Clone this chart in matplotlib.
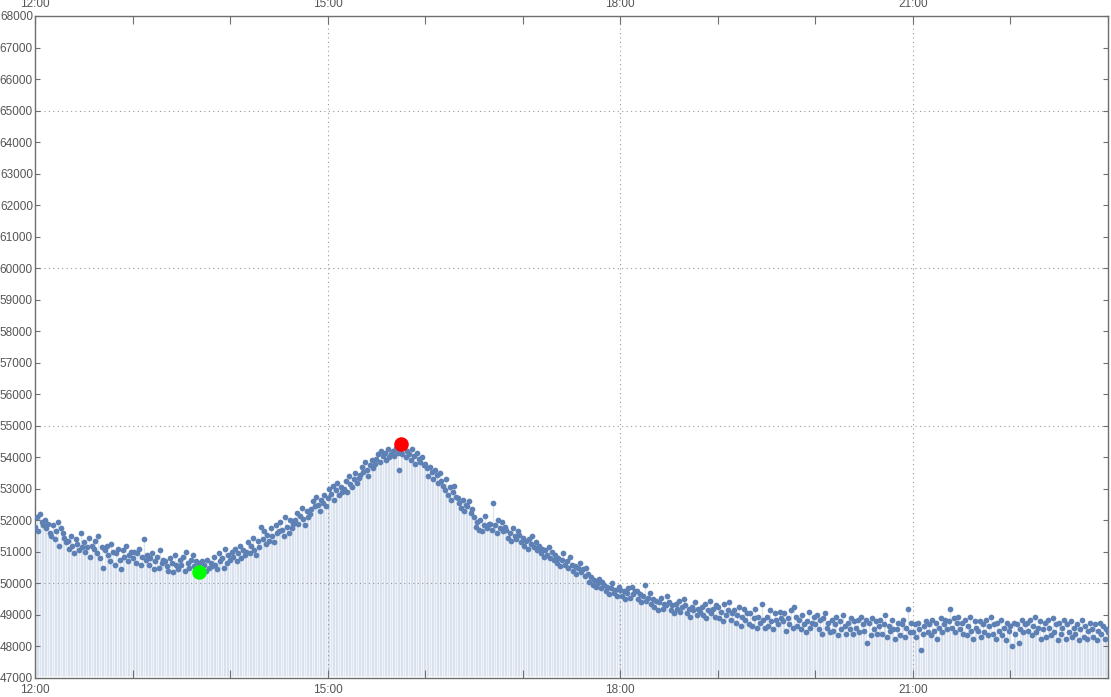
import matplotlib.pyplot as plt
import numpy as np

plt.rcParams['font.family'] = ['Liberation Sans', 'DejaVu Sans']
plt.rcParams['font.size'] = 8.5

# one reading per minute, from 12:00
h12 = [51800, 52100, 51650, 52200, 51950, 51850, 52000, 51750, 51900, 51600,
       51500, 51850, 51400, 51650, 51950, 51200, 51750, 51600, 51450, 51300,
       51350, 51100, 51500, 51200, 50950, 51400, 51250, 51050, 51600, 51150,
       51300, 51000, 51150, 51450, 50850, 51200, 51100, 51350, 50950, 51500,
       50800, 51150, 50500, 51050, 51200, 50900, 50700, 51250, 51000, 50600,
       50950, 51100, 50750, 50450, 51050, 50850, 51200, 50700, 50900, 51000]
h13 = [50800, 51000, 50650, 50950, 51100, 50600, 50850, 51400, 50750, 50900,
       50600, 50800, 50950, 50450, 50700, 50850, 50500, 51050, 50650, 50750,
       50700, 50550, 50400, 50800, 50650, 50350, 50900, 50600, 50450, 50750,
       50600, 50850, 50400, 51000, 50650, 50500, 50750, 50900, 50550, 50700,
       50550, 50650, 50450, 50700, 50600, 50400, 50750, 50500, 50650, 50550,
       50850, 50600, 50450, 50950, 50700, 50800, 50500, 51100, 50650, 50900]
h14 = [50750, 51000, 50850, 51100, 50700, 50950, 51200, 50800, 51050, 50900,
       51000, 51300, 50950, 51200, 51450, 51050, 50900, 51350, 51150, 51800,
       51400, 51650, 51250, 51550, 51350, 51750, 51500, 51300, 51850, 51600,
       51650, 51950, 51700, 51500, 52100, 51800, 51600, 52000, 51750, 51900,
       52000, 52250, 51900, 52150, 52400, 52050, 51850, 52300, 52100, 52200,
       52350, 52600, 52450, 52750, 52500, 52300, 52650, 52550, 52800, 52450]
h15 = [52700, 53000, 52850, 53100, 52650, 52950, 53200, 52800, 53050, 52900,
       53000, 53250, 52900, 53400, 53150, 53050, 53300, 53500, 53200, 53350,
       53450, 53700, 53550, 53850, 53600, 53400, 53750, 53900, 53650, 53800,
       53950, 54100, 53850, 54200, 54050, 54150, 53900, 54250, 54000, 54100,
       54200, 54050, 54300, 54150, 53600, 54250, 54100, 54350, 54000, 54200,
       54100, 53900, 54250, 54050, 53800, 54150, 53950, 53850, 54000, 53750]
h16 = [53800, 53650, 53400, 53700, 53550, 53300, 53600, 53450, 53200, 53500,
       53250, 53100, 52950, 53300, 52800, 53050, 52650, 52900, 53100, 52750,
       52700, 52550, 52400, 52650, 52300, 52500, 52450, 52600, 52250, 52350,
       52100, 51800, 51950, 51700, 52000, 51650, 51850, 52150, 51750, 51900,
       51900, 51700, 52550, 51850, 51600, 52000, 51750, 51950, 51650, 51800,
       51700, 51450, 51600, 51350, 51750, 51500, 51400, 51650, 51550, 51300]
h17 = [51450, 51200, 51350, 51100, 51400, 51250, 51500, 51150, 51300, 51050,
       51200, 50950, 51100, 50850, 51050, 50900, 51150, 50800, 51000, 50750,
       50900, 50650, 50800, 50550, 50750, 50950, 50600, 50700, 50500, 50850,
       50600, 50400, 50550, 50300, 50500, 50650, 50350, 50450, 50250, 50500,
       50300, 50050, 50200, 49950, 50100, 49900, 50000, 50150, 49850, 50050,
       49950, 49750, 49900, 49650, 49850, 50000, 49700, 49800, 49600, 49900]
h18 = [49800, 49600, 49750, 49500, 49700, 49850, 49550, 49900, 49650, 49750,
       49750, 49500, 49650, 49400, 49600, 49950, 49450, 49550, 49700, 49350,
       49500, 49250, 49450, 49150, 49400, 49550, 49200, 49350, 49300, 49600,
       49400, 49150, 49300, 49050, 49350, 49200, 49450, 49100, 49250, 49500,
       49300, 49050, 49200, 48950, 49250, 49150, 49400, 49000, 49200, 49100,
       49250, 49000, 49350, 48900, 49150, 49450, 49050, 49200, 48950, 49300]
h19 = [49250, 48900, 49100, 48800, 49350, 49000, 49150, 49400, 48850, 49050,
       49150, 48750, 49000, 49250, 48650, 48950, 49200, 48850, 49050, 48700,
       49050, 48650, 48900, 49200, 48600, 48950, 48750, 49350, 48850, 48600,
       48950, 48650, 49150, 48800, 48550, 49050, 48850, 48700, 49100, 48900,
       48800, 49050, 48500, 48900, 48700, 49150, 48600, 49250, 48950, 48650,
       48850, 48550, 49000, 48700, 48450, 48800, 49100, 48600, 48750, 48950]
h20 = [48700, 49000, 48550, 48850, 48400, 48900, 49050, 48600, 48750, 48450,
       48850, 48500, 48700, 48950, 48350, 48800, 48550, 49000, 48650, 48400,
       48750, 48550, 48900, 48400, 48800, 48600, 48850, 48450, 48950, 48700,
       48500, 48850, 48100, 48750, 48350, 48900, 48550, 48800, 48400, 48650,
       48850, 48400, 48700, 49000, 48300, 48650, 48500, 48850, 48550, 48250,
       48550, 48750, 48350, 48700, 48850, 48300, 48600, 49200, 48450, 48750]
h21 = [48450, 48700, 48300, 48750, 48550, 47900, 48400, 48650, 48800, 48450,
       48700, 48350, 48850, 48500, 48750, 48250, 48600, 48900, 48450, 48700,
       48850, 48550, 48800, 49200, 48600, 48900, 48450, 48750, 48950, 48550,
       48750, 48400, 48850, 48350, 48650, 48950, 48500, 48250, 48800, 48600,
       48500, 48800, 48300, 48700, 48450, 48850, 48350, 48650, 48950, 48400,
       48700, 48250, 48750, 48500, 48850, 48350, 48600, 48200, 48750, 48500]
h22 = [48650, 48000, 48750, 48400, 48700, 48100, 48550, 48850, 48450, 48700,
       48750, 48500, 48850, 48350, 48650, 48950, 48450, 48600, 48800, 48250,
       48550, 48750, 48300, 48850, 48600, 48350, 48900, 48450, 48700, 48200,
       48750, 48400, 48600, 48850, 48250, 48700, 48450, 48800, 48300, 48600,
       48400, 48700, 48200, 48550, 48850, 48300, 48650, 48250, 48500, 48750,
       48550, 48300, 48700, 48200, 48500, 48750, 48400, 48650, 48250, 48550,
       48450]

values = h12 + h13 + h14 + h15 + h16 + h17 + h18 + h19 + h20 + h21 + h22
minutes = np.arange(len(values))

low_minute, low_value = 101, 50350
high_minute, high_value = 225, 54420

tick_minutes = [0, 180, 360, 540]
tick_labels = ['12:00', '15:00', '18:00', '21:00']
hour_minutes = np.arange(0, 661, 60)
grid_values = [50000, 55000, 60000, 65000]
grid_minutes = [180, 360, 540]

blue = '#5E81B5'
frame = '#6e6e6e'
label_col = '#555555'

fig = plt.figure(figsize=(11.11, 6.97), dpi=100)
ax = fig.add_axes([35/1111, 19/697, 1073/1111, 662/697])

ax.vlines(minutes, 47060, values, color=blue, alpha=0.2, lw=1.0, zorder=1)
ax.scatter(minutes, values, s=17, color=blue, lw=0, zorder=3)
ax.scatter([low_minute], [low_value], s=110, color='#00FF00', lw=0, zorder=4)
ax.scatter([high_minute], [high_value], s=110, color='#FF0000', lw=0, zorder=4)

for g in grid_values:
    ax.axhline(g, color='#9a9a9a', lw=0.8, ls=(0, (1, 3)), zorder=0)
for g in grid_minutes:
    ax.axvline(g, color='#9a9a9a', lw=0.8, ls=(0, (1, 3)), zorder=0)

ax.set_xlim(0, 660)
ax.set_ylim(47000, 68000)

ax.set_xticks(tick_minutes)
ax.set_xticklabels(tick_labels)
ax.set_xticks(hour_minutes, minor=True)
ax.set_yticks(np.arange(47000, 68001, 1000))
ax.set_yticklabels([str(v) for v in range(47000, 68001, 1000)])

ax.tick_params(axis='x', which='both', direction='in', length=6, width=0.8,
               color=frame, top=True, labeltop=True, pad=4, labelcolor=label_col)
ax.tick_params(axis='y', which='both', direction='in', length=3.5, width=0.8,
               color=frame, right=True, pad=1.5, labelcolor=label_col)
for s in ax.spines.values():
    s.set_color(frame)
    s.set_linewidth(1.0)

fig.savefig('out.png', dpi=100)
